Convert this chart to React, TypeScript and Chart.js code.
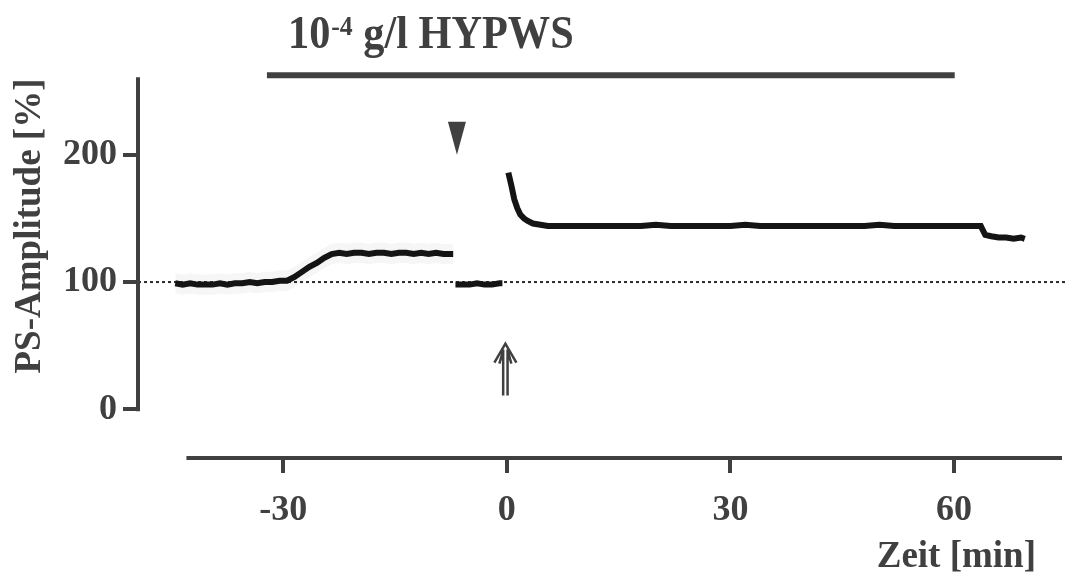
import React, { useEffect, useRef } from "react";
import { Chart, registerables } from "chart.js";

Chart.register(...registerables);

const FONT = "'Liberation Serif', 'Times New Roman', serif";
const INK = "#404040";
const DATA_INK = "#141414";

// axis ticks
const xTicks = [-30, 0, 30, 60];
const yTicks = [0, 100, 200];

// control period (before application)
const ctrlTime = [-44.5, -43.5, -42.5, -41.5, -40.5, -39.5, -38.5, -37.5, -36.5, -35.5, -34.5, -33.5, -32.5, -31.5, -30.5, -29.5, -28.5, -27.5, -26.5, -25.5, -24.5, -23.5, -22.5, -21.5, -20.5, -19.5, -18.5, -17.5, -16.5, -15.5, -14.5, -13.5, -12.5, -11.5, -10.5, -9.5, -8.5, -7.2];
const ctrlAmp = [99, 98, 99, 98, 98, 98, 99, 98, 99, 99, 100, 99, 100, 100, 101, 101, 104, 108, 112, 115, 119, 122, 123, 122, 123, 123, 122, 123, 123, 122, 123, 123, 122, 123, 122, 123, 122, 122];
const ctrlSpread = [8, 8, 8, 8, 8, 8, 8, 8, 8, 8, 8, 8, 8, 8, 8, 8, 8, 8, 8, 8, 8, 8, 8, 8, 8, 8, 8, 8, 8, 8, 8, 8, 8, 8, 8, 8, 8, 8];

// short test segment
const testTime = [-6.9, -6.0, -5.0, -4.0, -3.0, -2.0, -1.0, -0.6];
const testAmp = [98, 98, 98, 99, 98, 98, 99, 99];

// after application
const washTime = [0.2, 0.6, 1.0, 1.4, 1.8, 2.3, 2.8, 3.5, 4.5, 5.5, 8, 10, 12, 14, 16, 18, 20, 22, 24, 26, 28, 30, 32, 34, 36, 38, 40, 42, 44, 46, 48, 50, 52, 54, 56, 58, 60, 62, 63.6, 64.2, 65, 66, 67, 68, 69, 69.5];
const washAmp = [186, 176, 165, 158, 153, 150, 148, 146, 145, 144, 144, 144, 144, 144, 144, 144, 145, 144, 144, 144, 144, 144, 145, 144, 144, 144, 144, 144, 144, 144, 144, 145, 144, 144, 144, 144, 144, 144, 144, 137, 136, 135, 135, 134, 135, 134];

// reference level, substance bar, markers
const baselineLevel = 100;
const barStart = -32.2;
const barEnd = 60.1;
const barLevel = 262.5;
const triangleTime = -6.7;
const arrowTime = -0.2;

const xMin = -49.5;
const xMax = 74.9;
const yMin = -38.3;
const yMax = 300;

const decor = {
  id: "decor",
  afterDraw(chart: any) {
    const ctx = chart.ctx;
    const xs = chart.scales.x;
    const ys = chart.scales.y;
    const area = chart.chartArea;
    ctx.save();
    ctx.strokeStyle = INK;
    ctx.fillStyle = INK;
    ctx.lineCap = "butt";

    // y axis line
    ctx.lineWidth = 4;
    ctx.beginPath();
    ctx.moveTo(area.left, ys.getPixelForValue(0) + 2);
    ctx.lineTo(area.left, ys.getPixelForValue(261));
    ctx.stroke();

    // x axis line
    ctx.beginPath();
    ctx.moveTo(xs.getPixelForValue(-43), area.bottom);
    ctx.lineTo(xs.getPixelForValue(74.5), area.bottom);
    ctx.stroke();

    // triangle marker
    const tx = xs.getPixelForValue(triangleTime);
    ctx.beginPath();
    ctx.moveTo(tx - 9, ys.getPixelForValue(226));
    ctx.lineTo(tx + 9, ys.getPixelForValue(226));
    ctx.lineTo(tx, ys.getPixelForValue(200));
    ctx.closePath();
    ctx.fill();

    // double arrow
    const ax = xs.getPixelForValue(arrowTime);
    const tip = ys.getPixelForValue(51.6);
    const wing = ys.getPixelForValue(36.7);
    const shaftTop = ys.getPixelForValue(47);
    const shaftBot = ys.getPixelForValue(10.9);
    ctx.lineWidth = 2.5;
    ctx.beginPath();
    ctx.moveTo(ax - 2.2, shaftTop);
    ctx.lineTo(ax - 2.2, shaftBot);
    ctx.moveTo(ax + 2.2, shaftTop);
    ctx.lineTo(ax + 2.2, shaftBot);
    ctx.moveTo(ax - 11, wing);
    ctx.lineTo(ax, tip);
    ctx.lineTo(ax + 11, wing);
    ctx.moveTo(ax - 6, wing + 1);
    ctx.lineTo(ax - 2.2, shaftTop + 1);
    ctx.moveTo(ax + 6, wing + 1);
    ctx.lineTo(ax + 2.2, shaftTop + 1);
    ctx.stroke();

    // title (slightly condensed, as in the original)
    ctx.save();
    ctx.translate(288, 48);
    ctx.scale(0.92, 1);
    ctx.textBaseline = "alphabetic";
    ctx.textAlign = "left";
    ctx.font = `bold 46px ${FONT}`;
    let cx = 0;
    ctx.fillText("10", cx, 0);
    cx += ctx.measureText("10").width + 1;
    ctx.font = `bold 28px ${FONT}`;
    ctx.fillText("-4", cx, -13);
    cx += ctx.measureText("-4").width;
    ctx.font = `bold 46px ${FONT}`;
    ctx.fillText(" g/l HYPWS", cx, 0);
    ctx.restore();

    // axis titles
    ctx.textBaseline = "alphabetic";
    ctx.font = `bold 37px ${FONT}`;
    ctx.textAlign = "right";
    ctx.fillText("Zeit [min]", 1036, 567);

    ctx.translate(30, 226);
    ctx.rotate(-Math.PI / 2);
    ctx.textAlign = "center";
    ctx.textBaseline = "middle";
    ctx.fillText("PS-Amplitude [%]", 0, 0);
    ctx.restore();
  },
};

function pts(xsArr: number[], ysArr: number[]) {
  return xsArr.map((x, i) => ({ x, y: ysArr[i] }));
}

export default function App() {
  const ref = useRef<HTMLCanvasElement>(null);
  useEffect(() => {
    if (!ref.current) return;
    const lineBase = { pointRadius: 0, borderWidth: 6, borderColor: DATA_INK, tension: 0, fill: false };
    const chart = new Chart(ref.current, {
      type: "line",
      data: {
        datasets: [
          { ...lineBase, label: "Kontrolle", data: pts(ctrlTime, ctrlAmp), order: 0 },
          { ...lineBase, label: "Test", data: pts(testTime, testAmp), order: 0 },
          { ...lineBase, label: "HYPWS", data: pts(washTime, washAmp), order: 0 },
          {
            label: "Streuung oben",
            data: pts(ctrlTime, ctrlAmp.map((v, i) => v + ctrlSpread[i])),
            pointRadius: 0, borderWidth: 0, borderColor: "rgba(0,0,0,0)",
            backgroundColor: "#f6f6f6", fill: "+1", order: 3,
          },
          {
            label: "Streuung unten",
            data: pts(ctrlTime, ctrlAmp.map((v, i) => v - ctrlSpread[i])),
            pointRadius: 0, borderWidth: 0, borderColor: "rgba(0,0,0,0)", fill: false, order: 3,
          },
          {
            label: "100 %",
            data: [{ x: xMin, y: baselineLevel }, { x: xMax, y: baselineLevel }],
            pointRadius: 0, borderWidth: 2, borderColor: "#2a2a2a", borderDash: [3, 3], fill: false, order: 1,
          },
          {
            label: "Applikation",
            data: [{ x: barStart, y: barLevel }, { x: barEnd, y: barLevel }],
            pointRadius: 0, borderWidth: 6, borderColor: INK, borderCapStyle: "butt", fill: false, order: 1,
          },
        ],
      },
      options: {
        animation: false,
        responsive: false,
        devicePixelRatio: 1,
        layout: { padding: { top: 25, right: 10, left: 0, bottom: 0 } },
        plugins: { legend: { display: false }, tooltip: { enabled: false }, title: { display: false } },
        scales: {
          x: {
            type: "linear",
            min: xMin,
            max: xMax,
            afterFit: (s: any) => { s.height = 115; },
            afterBuildTicks: (s: any) => { s.ticks = xTicks.map((v) => ({ value: v })); },
            border: { display: false },
            grid: { drawOnChartArea: false, drawTicks: true, tickLength: 15, tickWidth: 4, tickColor: INK, lineWidth: 4, color: INK },
            ticks: { color: INK, font: { family: FONT, size: 36, weight: "bold" }, padding: 16, maxRotation: 0, autoSkip: false, callback: (v: any) => String(v) },
          },
          y: {
            type: "linear",
            min: yMin,
            max: yMax,
            afterFit: (s: any) => { s.width = 138; },
            afterBuildTicks: (s: any) => { s.ticks = yTicks.map((v) => ({ value: v })); },
            border: { display: false },
            grid: { drawOnChartArea: false, drawTicks: true, tickLength: 15, tickWidth: 4, tickColor: INK, lineWidth: 4, color: INK },
            ticks: { color: INK, font: { family: FONT, size: 36, weight: "bold" }, padding: 6, callback: (v: any) => String(v) },
          },
        },
      },
      plugins: [decor],
    });
    return () => chart.destroy();
  }, []);
  return (
    <div style={{ position: "fixed", left: 0, top: 0, width: 1075, height: 573, background: "#fff" }}>
      <canvas ref={ref} width={1075} height={573} />
    </div>
  );
}
